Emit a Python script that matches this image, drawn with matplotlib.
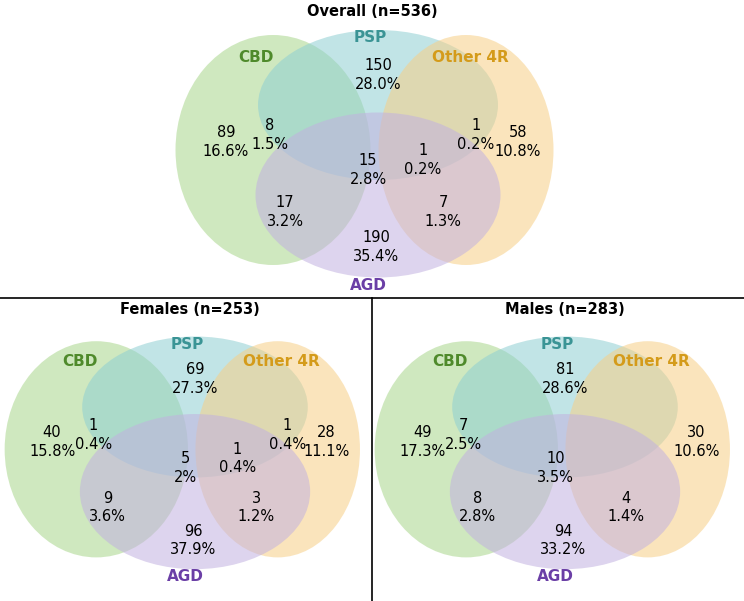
import matplotlib
matplotlib.use("Agg")
import matplotlib.pyplot as plt
from matplotlib.patches import Ellipse

titles = ["Overall (n=536)", "Females (n=253)", "Males (n=283)"]
sets = ["CBD", "PSP", "Other 4R", "AGD"]
regions = ["PSP", "CBD&PSP", "PSP&Other", "CBD", "CBD&PSP&AGD", "PSP&Other&AGD", "Other", "CBD&AGD", "Other&AGD", "AGD"]
counts = {
    "Overall": [150, 8, 1, 89, 15, 1, 58, 17, 7, 190],
    "Females": [69, 1, 1, 40, 5, 1, 28, 9, 3, 96],
    "Males":   [81, 7, None, 49, 10, None, 30, 8, 4, 94],
}
pcts = {
    "Overall": ["28.0%", "1.5%", "0.2%", "16.6%", "2.8%", "0.2%", "10.8%", "3.2%", "1.3%", "35.4%"],
    "Females": ["27.3%", "0.4%", "0.4%", "15.8%", "2%", "0.4%", "11.1%", "3.6%", "1.2%", "37.9%"],
    "Males":   ["28.6%", "2.5%", None, "17.3%", "3.5%", None, "10.6%", "2.8%", "1.4%", "33.2%"],
}

fill = {"CBD": "#a9d68c", "PSP": "#8fcfd2", "Other 4R": "#f7cf86", "AGD": "#c2b1e0"}
lab_col = {"CBD": "#4f8a2b", "PSP": "#3a9495", "Other 4R": "#d49b1a", "AGD": "#6b3fa6"}
shape = {"CBD": (-105, 45, 195, 230), "PSP": (0, 0, 240, 150),
         "Other 4R": (88, 45, 175, 230), "AGD": (0, 90, 245, 165)}
label_off = {"CBD": (-122, -48), "PSP": (-8, -67), "Other 4R": (92, -48), "AGD": (-10, 180)}
text_off = [(0, -30), (-108, 30), (98, 30), (-152, 37), (-10, 65), (45, 55),
            (140, 37), (-93, 107), (65, 107), (-2, 142)]

fig = plt.figure(figsize=(7.44, 6.01), dpi=100)
ax = fig.add_axes([0, 0, 1, 1])
ax.set_xlim(0, 744); ax.set_ylim(601, 0); ax.axis("off")

panels = [("Overall", (378, 105), (372, 12), 1.0),
          ("Females", (195, 407), (190, 310), 0.94),
          ("Males", (565, 407), (565, 310), 0.94)]
for (key, (cx, cy), (tx, ty), k), title in zip(panels, titles):
    ax.text(tx, ty, title, ha="center", va="center", fontsize=10.5, fontweight="bold")
    for s in sets:
        dx, dy, w, h = shape[s]
        ax.add_patch(Ellipse((cx + k * dx, cy + k * dy), k * w, k * h,
                             facecolor=fill[s], alpha=0.55, edgecolor="none"))
        lx, ly = label_off[s]
        ax.text(cx + k * lx, cy + k * ly, s, ha="center", va="center", fontsize=11,
                fontweight="bold", color=lab_col[s])
    for (ox, oy), c, p in zip(text_off, counts[key], pcts[key]):
        if c is None:
            continue
        ax.text(cx + k * ox, cy + k * oy, f"{c}\n{p}", ha="center", va="center",
                fontsize=10.5, linespacing=1.3)

ax.plot([0, 744], [298, 298], color="black", lw=1.2)
ax.plot([372, 372], [298, 601], color="black", lw=1.2)
fig.savefig("out.png", dpi=100)
